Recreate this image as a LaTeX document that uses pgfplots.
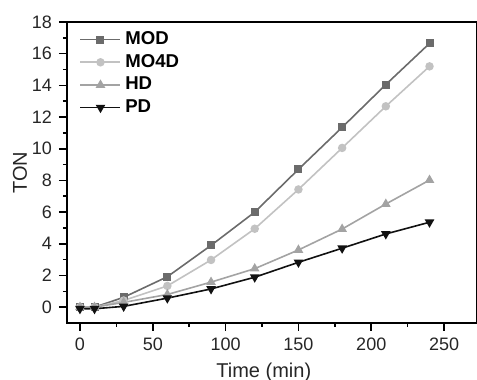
\documentclass[border=0pt]{standalone}
\usepackage{pgfplots}
\pgfplotsset{compat=1.18}
\usepackage{fontspec}
\setmainfont{Liberation Sans}
\definecolor{cMOD}{HTML}{6B6B6B}
\definecolor{cMOFD}{HTML}{C2C2C2}
\definecolor{cHD}{HTML}{A3A3A3}
\definecolor{cPD}{HTML}{111111}
\begin{document}
\begin{tikzpicture}
\begin{axis}[name=ax, scale only axis, width=205pt, height=150.5pt,
  xmin=-8.9, xmax=272.6, ymin=-1, ymax=18,
  xtick={0,50,...,250}, ytick={0,2,...,18},
  minor x tick num=1, minor y tick num=1,
  xtick pos=bottom, ytick pos=left, tick align=outside,
  major tick length=4pt, minor tick length=2pt,
  every tick/.style={line width=0.8pt, black},
  axis line style={line width=1.1pt, black},
  tick label style={font=\fontsize{9}{10}\selectfont, text=black!85},
  /pgf/number format/assume math mode=true,
  xlabel={Time (min)}, ylabel={TON},
  label style={font=\fontsize{10}{12}\selectfont, text=black!85},
  xlabel style={at={(rel axis cs:0.48,-0.1628)}, anchor=center},
  ylabel style={at={(rel axis cs:-0.1146,0.5)}, anchor=center},
  legend style={at={(rel axis cs:0.03,0.983)}, anchor=north west, draw=none, fill=none,
    font=\bfseries\fontsize{9.3}{10}\selectfont, inner sep=0pt, row sep=-0.6pt},
  legend cell align=left,
  legend image code/.code={\draw[mark repeat=2,mark phase=2] plot coordinates {(0pt,0pt)(10pt,0pt)(20pt,0pt)};},
  every axis plot/.append style={line width=0.8pt},
]
\addplot[color=cMOD, mark=square*, mark size=1.6pt] coordinates {
(0,0) (10,0) (30,0.62) (60,1.92) (90,3.9) (120,6.0) (150,8.7) (180,11.35) (210,14.05) (240,16.65)};
\addlegendentry{MOD}
\addplot[color=cMOFD, mark=*, mark size=1.7pt] coordinates {
(0,0) (10,0) (30,0.42) (60,1.34) (90,2.98) (120,4.95) (150,7.43) (180,10.05) (210,12.68) (240,15.2)};
\addlegendentry{MO4D}
\addplot[color=cHD, mark=triangle*, mark size=2pt] coordinates {
(0,0) (10,0) (30,0.3) (60,0.8) (90,1.58) (120,2.43) (150,3.61) (180,4.93) (210,6.51) (240,8.02)};
\addlegendentry{HD}
\addplot[color=cPD, mark=triangle*, mark options={rotate=180}, mark size=2pt] coordinates {
(0,-0.1) (10,-0.1) (30,0.05) (60,0.57) (90,1.15) (120,1.89) (150,2.83) (180,3.72) (210,4.62) (240,5.36)};
\addlegendentry{PD}
\end{axis}
\pgfresetboundingbox
\path ([xshift=-33.5pt,yshift=-28.5pt]ax.south west) rectangle ([yshift=11pt]ax.north east);
\end{tikzpicture}
\end{document}
